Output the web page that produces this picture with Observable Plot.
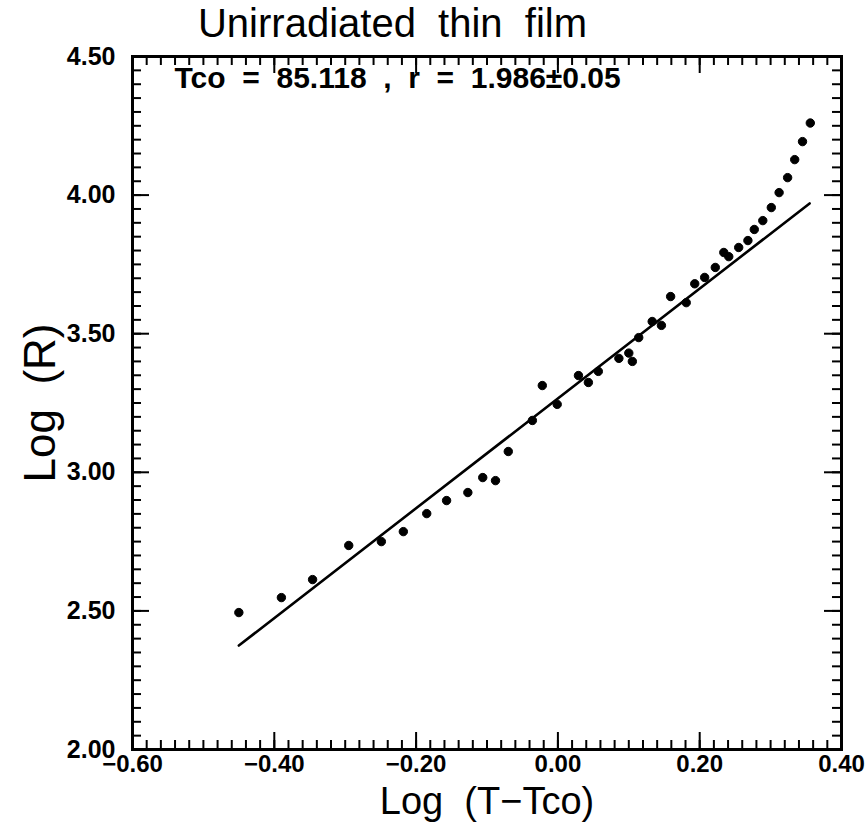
<!DOCTYPE html>
<html>
<head>
<meta charset="utf-8">
<script src="https://cdn.jsdelivr.net/npm/d3@7"></script>
<script src="https://cdn.jsdelivr.net/npm/@observablehq/plot@0.6"></script>
<style>
  html, body { margin: 0; padding: 0; background: #fff; }
  svg { display: block; }
</style>
</head>
<body>
<div id="chart"></div>
<script>
// Measured points: Log(T - Tco) vs Log(R)
const logDT = [-0.45, -0.39, -0.346, -0.295, -0.249, -0.218, -0.185, -0.157, -0.127, -0.106,
               -0.088, -0.07, -0.036, -0.022, -0.001, 0.029, 0.043, 0.057, 0.086, 0.100,
               0.105, 0.114, 0.133, 0.146, 0.159, 0.181, 0.193, 0.207, 0.222, 0.234,
               0.241, 0.255, 0.268, 0.277, 0.289, 0.301, 0.312, 0.324, 0.334, 0.345, 0.356];
const logR  = [2.494, 2.548, 2.613, 2.736, 2.75, 2.786, 2.851, 2.898, 2.927, 2.981,
               2.970, 3.075, 3.187, 3.313, 3.245, 3.349, 3.324, 3.364, 3.411, 3.43,
               3.40, 3.486, 3.544, 3.53, 3.634, 3.612, 3.68, 3.703, 3.739, 3.793,
               3.778, 3.811, 3.836, 3.876, 3.908, 3.955, 4.009, 4.063, 4.128, 4.193, 4.26];

// Fitted straight line (slope r = 1.986) endpoints
const fitX = [-0.45, 0.355];
const fitY = [2.375, 3.97];

// Axis ticks and labels
const xMajor = [-0.6, -0.4, -0.2, 0.0, 0.2, 0.4];
const xMajorLabels = ["\u22120.60", "\u22120.40", "\u22120.20", "0.00", "0.20", "0.40"];
const yMajor = [2.0, 2.5, 3.0, 3.5, 4.0, 4.5];
const yMajorLabels = ["2.00", "2.50", "3.00", "3.50", "4.00", "4.50"];
const xMinor = d3.range(-0.6, 0.4001, 0.02);
const yMinor = d3.range(2.0, 4.5001, 0.05);

const S = "\u00A0";
const titleText = `Unirradiated${S}${S}thin${S}${S}film`;
const noteText = `Tco${S}${S}=${S}${S}85.118${S}${S},${S}${S}r${S}${S}=${S}${S}1.986\u00B10.05`;
const xTitle = `Log${S}${S}(T\u2212Tco)`;
const yTitle = `Log${S}${S}(R)`;

const points = logDT.map((x, i) => ({x, y: logR[i]}));
const fit = fitX.map((x, i) => ({x, y: fitY[i]}));

const W = 868, H = 823;
const mL = 132, mR = 27, mT = 56, mB = 74;
const fw = W - mL - mR, fh = H - mT - mB;
const minorLen = 9, majorLen = 17;

const tickFont = "'Liberation Sans', Arial, sans-serif";

const chart = Plot.plot({
  width: W, height: H,
  marginLeft: mL, marginRight: mR, marginTop: mT, marginBottom: mB,
  style: {fontFamily: tickFont, background: "#fff", color: "#000"},
  x: {domain: [-0.6, 0.4], axis: null},
  y: {domain: [2.0, 4.5], axis: null},
  marks: [
    // inward ticks: bottom/top
    Plot.ruleX(xMinor, {x: d => d, insetTop: fh - minorLen, stroke: "#000", strokeWidth: 2}),
    Plot.ruleX(xMinor, {x: d => d, insetBottom: fh - minorLen, stroke: "#000", strokeWidth: 2}),
    Plot.ruleX(xMajor, {x: d => d, insetTop: fh - majorLen, stroke: "#000", strokeWidth: 2}),
    Plot.ruleX(xMajor, {x: d => d, insetBottom: fh - majorLen, stroke: "#000", strokeWidth: 2}),
    // inward ticks: left/right
    Plot.ruleY(yMinor, {y: d => d, insetRight: fw - minorLen, stroke: "#000", strokeWidth: 2}),
    Plot.ruleY(yMinor, {y: d => d, insetLeft: fw - minorLen, stroke: "#000", strokeWidth: 2}),
    Plot.ruleY(yMajor, {y: d => d, insetRight: fw - majorLen, stroke: "#000", strokeWidth: 2}),
    Plot.ruleY(yMajor, {y: d => d, insetLeft: fw - majorLen, stroke: "#000", strokeWidth: 2}),
    Plot.frame({stroke: "#000", strokeWidth: 3}),
    // tick labels
    Plot.text(xMajor, {x: d => d, frameAnchor: "bottom", dy: 5, lineAnchor: "top",
      text: (d, i) => xMajorLabels[i], fontSize: 24, fontWeight: "bold", fill: "#000"}),
    Plot.text(yMajor, {y: d => d, frameAnchor: "left", dx: -17, textAnchor: "end",
      text: (d, i) => yMajorLabels[i], fontSize: 25, fontWeight: "bold", fill: "#000"}),
    // fitted line
    Plot.line(fit, {x: "x", y: "y", stroke: "#000", strokeWidth: 2.6}),
    // data points
    Plot.dot(points, {x: "x", y: "y", r: 4.2, fill: "#000", stroke: "#000", strokeWidth: 1}),
    // annotation
    Plot.text([noteText], {frameAnchor: "top-left", dx: 42, dy: 22, text: d => d,
      textAnchor: "start", fontSize: 30, fontWeight: "bold", fill: "#000", lineAnchor: "middle"}),
    // title
    Plot.text([titleText], {frameAnchor: "top-left", dx: 260, dy: -20, text: d => d,
      textAnchor: "middle", fontSize: 40, fill: "#000", lineAnchor: "bottom"}),
    // axis titles
    Plot.text([xTitle], {frameAnchor: "bottom", dy: 52, text: d => d,
      fontSize: 38, fill: "#000", lineAnchor: "middle"}),
    Plot.text([yTitle], {frameAnchor: "left", dx: -92, rotate: -90, textAnchor: "middle",
      text: d => d, fontSize: 44, fill: "#000", lineAnchor: "middle"})
  ]
});

document.getElementById("chart").appendChild(chart);
</script>
</body>
</html>
